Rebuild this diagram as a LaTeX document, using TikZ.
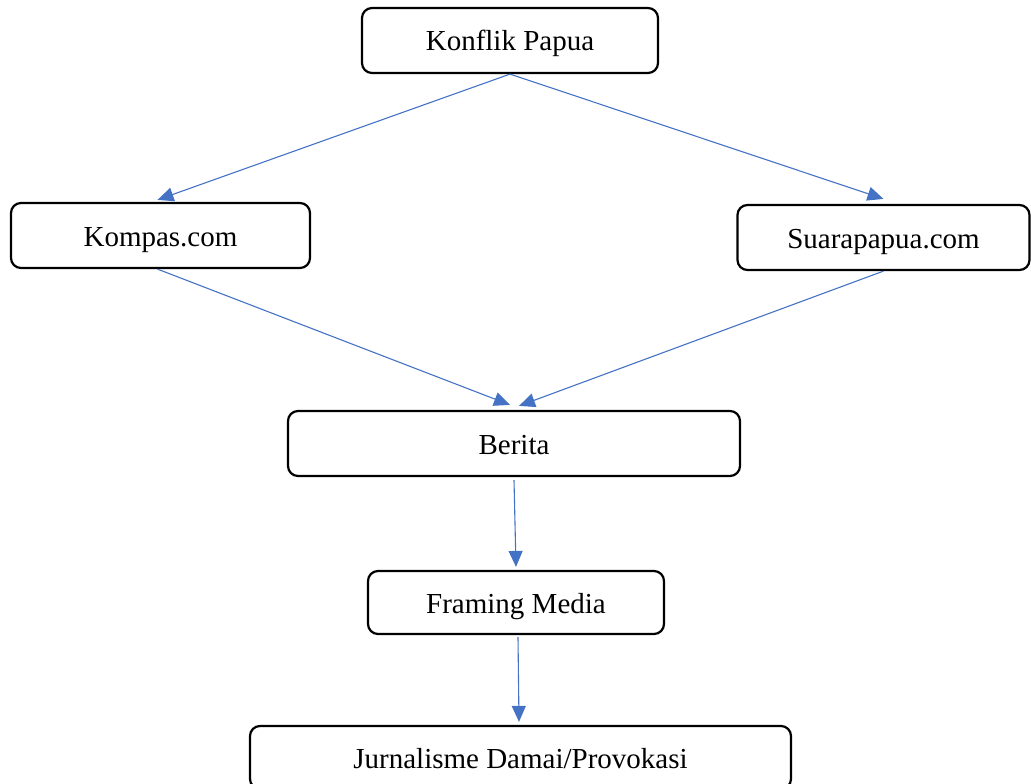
\documentclass[tikz,border=0pt]{standalone}
\usepackage{fontspec}
\setmainfont{Liberation Serif}
\usetikzlibrary{arrows.meta}
\definecolor{arrowblue}{HTML}{4472C4}
\begin{document}
\begin{tikzpicture}[x=1pt,y=-1pt,
  box/.style={draw=black, line width=2.2pt, rounded corners=10pt, fill=white,
    inner sep=0pt, text height=27pt, text depth=6pt, font=\fontsize{29}{34}\selectfont},
  conn/.style={draw=arrowblue, line width=1.1pt, -{Triangle[length=16pt,width=14pt]}}]
\useasboundingbox (0,0) rectangle (1031,784);
\node[box, minimum width=296pt, minimum height=65pt] (konflik) at (510,40.5) {Konflik Papua};
\node[box, minimum width=299pt, minimum height=65pt] (kompas) at (160.5,235.5) {Kompas.com};
\node[box, minimum width=292pt, minimum height=65pt] (suara) at (883.5,237.5) {Suarapapua.com};
\node[box, minimum width=452pt, minimum height=65pt] (berita) at (514,443.5) {Berita};
\node[box, minimum width=296pt, minimum height=63pt] (framing) at (516,602.5) {Framing Media};
\node[box, minimum width=541pt, minimum height=63pt] (jurnal) at (520.5,757.5) {Jurnalisme Damai/Provokasi};
\draw[conn] (konflik.south) -- ([xshift=-3pt,yshift=2pt]kompas.north);
\draw[conn] (konflik.south) -- ([yshift=5pt]suara.north);
\draw[conn] ([xshift=-3pt]kompas.south) -- ([xshift=-4pt,yshift=5pt]berita.north);
\draw[conn] (suara.south) -- ([xshift=5pt,yshift=4pt]berita.north);
\draw[conn] ([yshift=-3pt]berita.south) -- ([yshift=3pt]framing.north);
\draw[conn] ([xshift=2pt,yshift=-2pt]framing.south) -- ([xshift=-1.5pt,yshift=3pt]jurnal.north);
\end{tikzpicture}
\end{document}
